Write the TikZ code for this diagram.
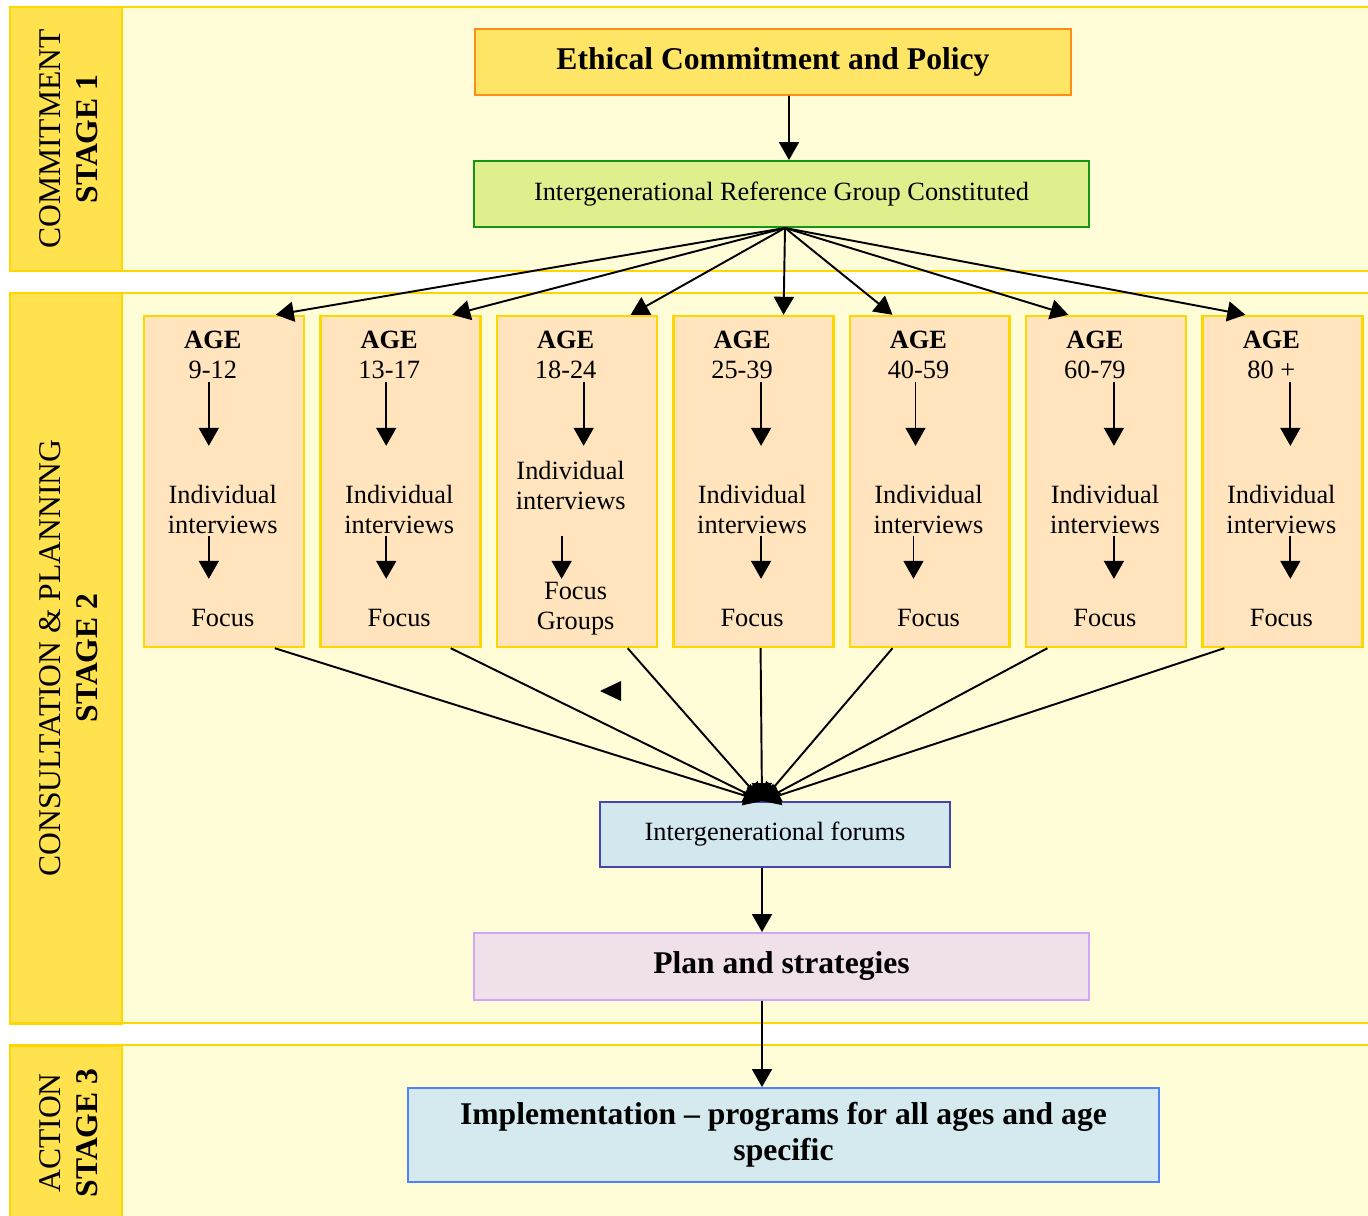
\documentclass[tikz,border=0pt]{standalone}
\usepackage{fontspec}
\setmainfont{Liberation Serif}
\usetikzlibrary{positioning,arrows.meta}

\definecolor{bandfill}{RGB}{255,253,216}
\definecolor{gold}{RGB}{255,215,0}
\definecolor{stagefill}{RGB}{255,226,77}
\definecolor{ethfill}{RGB}{255,229,102}
\definecolor{ethdraw}{RGB}{255,140,20}
\definecolor{reffill}{RGB}{224,239,141}
\definecolor{refdraw}{RGB}{20,150,20}
\definecolor{agefill}{RGB}{255,228,190}
\definecolor{forfill}{RGB}{210,232,238}
\definecolor{fordraw}{RGB}{70,70,170}
\definecolor{planfill}{RGB}{240,224,234}
\definecolor{plandraw}{RGB}{210,165,245}
\definecolor{implfill}{RGB}{212,234,238}
\definecolor{impldraw}{RGB}{80,130,255}

\begin{document}
\begin{tikzpicture}[
        x=0.02cm, y=-0.02cm,
        node distance=0.28cm,
        band/.style={fill=bandfill},
        bandline/.style={draw=gold, line width=1.2pt},
        stagebox/.style={draw=gold, fill=stagefill, line width=1.7pt},
        stagetxt/.style={rotate=90, align=center, font=\fontsize{18}{21}\selectfont},
        box/.style={rectangle, line width=1.1pt, align=center, inner sep=0pt},
        bigtxt/.style={font=\fontsize{18}{20.5}\selectfont\bfseries},
        smalltxt/.style={font=\fontsize{15}{17}\selectfont},
        agebox/.style={rectangle, draw=gold, fill=agefill, line width=1.4pt, minimum width=3.2cm, minimum height=6.62cm},
        agetxt/.style={align=center, inner sep=0pt, font=\fontsize{15}{17}\selectfont},
        arrow/.style={-{Triangle[length=0.36cm, width=0.4cm]}, line width=1.1pt}
    ]
        \useasboundingbox (0,0) rectangle (1368,1216);
        \clip (0,0) rectangle (1368,1216);

        % Stage bands
        \fill[band] (122,7) rectangle (1380,271);
        \fill[band] (122,293) rectangle (1380,1023);
        \fill[band] (122,1045) rectangle (1380,1240);
        \draw[bandline] (122,7) -- (1380,7) (122,271) -- (1380,271);
        \draw[bandline] (122,293) -- (1380,293) (122,1023) -- (1380,1023);
        \draw[bandline] (122,1045) -- (1380,1045);
        \draw[stagebox] (10,7) rectangle (122,271);
        \draw[stagebox] (10,293) rectangle (122,1023);
        \draw[stagebox] (10,1045) rectangle (122,1240);
        \node[stagetxt] (stage1) at (69,139) {COMMITMENT\\\textbf{STAGE 1}};
        \node[stagetxt] (stage2) at (69,658) {CONSULTATION \& PLANNING\\\textbf{STAGE 2}};
        \node[stagetxt] (stage3) at (69,1133) {ACTION\\\textbf{STAGE 3}};

        % Stage 1: Commitment
        \node[box, draw=ethdraw, fill=ethfill, minimum width=11.92cm, minimum height=1.32cm, bigtxt] (ethics) at (773,62) {Ethical Commitment and Policy};
        \node[box, draw=refdraw, fill=reffill, minimum width=12.3cm, minimum height=1.32cm, smalltxt] (refgroup) at (781.5,194) {Intergenerational Reference Group Constituted};

        % Stage 2: Age groups
        \node[agebox] (age1) at (224,481.5) {};
        \node[agebox, right=of age1] (age2) {};
        \node[agebox, right=of age2] (age3) {};
        \node[agebox, right=of age3] (age4) {};
        \node[agebox, right=of age4] (age5) {};
        \node[agebox, right=of age5] (age6) {};
        \node[agebox, right=of age6] (age7) {};

        \node[agetxt] (range1) at ([shift={(70,40)}]age1.north west) {\textbf{AGE}\\9-12};
        \node[agetxt] (range2) at ([shift={(70,40)}]age2.north west) {\textbf{AGE}\\13-17};
        \node[agetxt] (range3) at ([shift={(70,40)}]age3.north west) {\textbf{AGE}\\18-24};
        \node[agetxt] (range4) at ([shift={(70,40)}]age4.north west) {\textbf{AGE}\\25-39};
        \node[agetxt] (range5) at ([shift={(70,40)}]age5.north west) {\textbf{AGE}\\40-59};
        \node[agetxt] (range6) at ([shift={(70,40)}]age6.north west) {\textbf{AGE}\\60-79};
        \node[agetxt] (range7) at ([shift={(70,40)}]age7.north west) {\textbf{AGE}\\80 +};

        \node[agetxt] (interv1) at ([shift={(80,195)}]age1.north west) {Individual\\interviews};
        \node[agetxt] (interv2) at ([shift={(80,195)}]age2.north west) {Individual\\interviews};
        \node[agetxt] (interv3) at ([shift={(75,171)}]age3.north west) {Individual\\interviews};
        \node[agetxt] (interv4) at ([shift={(80,195)}]age4.north west) {Individual\\interviews};
        \node[agetxt] (interv5) at ([shift={(80,195)}]age5.north west) {Individual\\interviews};
        \node[agetxt] (interv6) at ([shift={(80,195)}]age6.north west) {Individual\\interviews};
        \node[agetxt] (interv7) at ([shift={(80,195)}]age7.north west) {Individual\\interviews};

        \node[agetxt] (focus1) at ([shift={(80,303)}]age1.north west) {Focus};
        \node[agetxt] (focus2) at ([shift={(80,303)}]age2.north west) {Focus};
        \node[agetxt] (focus3) at ([shift={(80,294)}]age3.north west) {Focus\\Groups};
        \node[agetxt] (focus4) at ([shift={(80,303)}]age4.north west) {Focus};
        \node[agetxt] (focus5) at ([shift={(80,303)}]age5.north west) {Focus};
        \node[agetxt] (focus6) at ([shift={(80,303)}]age6.north west) {Focus};
        \node[agetxt] (focus7) at ([shift={(80,303)}]age7.north west) {Focus};

        % Arrows inside the age boxes
        \draw[arrow] ([shift={(66,67)}]age1.north west) -- ++(0,64);
        \draw[arrow] ([shift={(67,67)}]age2.north west) -- ++(0,64);
        \draw[arrow] ([shift={(88,67)}]age3.north west) -- ++(0,64);
        \draw[arrow] ([shift={(89,67)}]age4.north west) -- ++(0,64);
        \draw[arrow] ([shift={(67,67)}]age5.north west) -- ++(0,64);
        \draw[arrow] ([shift={(89,67)}]age6.north west) -- ++(0,64);
        \draw[arrow] ([shift={(89,67)}]age7.north west) -- ++(0,64);
        \draw[arrow] ([shift={(66,221)}]age1.north west) -- ++(0,43);
        \draw[arrow] ([shift={(67,221)}]age2.north west) -- ++(0,43);
        \draw[arrow] ([shift={(66,221)}]age3.north west) -- ++(0,43);
        \draw[arrow] ([shift={(89,221)}]age4.north west) -- ++(0,43);
        \draw[arrow] ([shift={(65,221)}]age5.north west) -- ++(0,43);
        \draw[arrow] ([shift={(89,221)}]age6.north west) -- ++(0,43);
        \draw[arrow] ([shift={(89,221)}]age7.north west) -- ++(0,43);

        % Forums and plan
        \node[box, draw=fordraw, fill=forfill, minimum width=7cm, minimum height=1.3cm, smalltxt] (forums) at (775,834.5) {Intergenerational forums};
        \node[box, draw=plandraw, fill=planfill, minimum width=12.3cm, minimum height=1.34cm, bigtxt] (plan) at (781.5,966.5) {Plan and strategies};

        % Stage 3: Action
        \node[box, draw=impldraw, fill=implfill, minimum width=15.02cm, minimum height=1.88cm, bigtxt] (impl) at (783.5,1135) {Implementation -- programs for all ages and age\\specific};

        % Arrows
        \draw[arrow] ([xshift=0.32cm]ethics.south) -- ([xshift=0.15cm]refgroup.north);
        \coordinate (fan) at ([xshift=0.07cm]refgroup.south);
        \draw[arrow] (fan) -- ([shift={(133,0)}]age1.north west);
        \draw[arrow] (fan) -- ([shift={(133,0)}]age2.north west);
        \draw[arrow] (fan) -- ([shift={(135,0)}]age3.north west);
        \draw[arrow] (fan) -- ([shift={(111.5,0)}]age4.north west);
        \draw[arrow] (fan) -- ([shift={(44,0)}]age5.north west);
        \draw[arrow] (fan) -- ([shift={(43.5,0)}]age6.north west);
        \draw[arrow] (fan) -- ([shift={(44,0)}]age7.north west);

        \coordinate (meet) at ([xshift=-0.26cm]forums.north);
        \draw[arrow] ([shift={(132,0)}]age1.south west) -- (meet);
        \draw[arrow] ([shift={(131.5,0)}]age2.south west) -- (meet);
        \draw[arrow] ([shift={(132,0)}]age3.south west) -- (meet);
        \draw[arrow] ([shift={(88.5,0)}]age4.south west) -- (meet);
        \draw[arrow] ([shift={(44,0)}]age5.south west) -- (meet);
        \draw[arrow] ([shift={(22.5,0)}]age6.south west) -- (meet);
        \draw[arrow] ([shift={(23,0)}]age7.south west) -- (meet);
        \fill (600,691) -- (621,681) -- (621,701) -- cycle;

        \draw[arrow] ([xshift=-0.26cm]forums.south) -- ([xshift=-0.39cm]plan.north);
        \draw[arrow] ([xshift=-0.39cm]plan.south) -- ([xshift=-0.43cm]impl.north);
    \end{tikzpicture}
\end{document}
